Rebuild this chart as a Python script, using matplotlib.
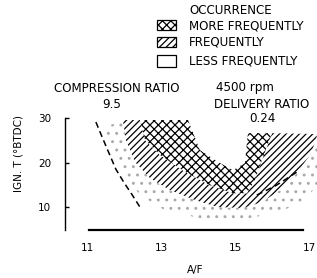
import matplotlib.pyplot as plt
from matplotlib.patches import Rectangle

# outer edge of the "frequently" band (A/F, ign. timing)
outer_af = [11.97, 12.05, 12.30, 12.70, 13.24, 13.92, 14.54, 15.22, 15.73, 16.22, 16.62, 17.03, 17.19, 17.22]
outer_ig = [29.55, 25.06, 20.11, 16.52, 13.82, 11.57, 10.0, 9.78, 11.12, 13.82, 17.19, 21.69, 25.06, 26.4]

# border between "frequently" and "more frequently"
mid_af = [12.43, 12.57, 12.97, 13.65, 14.32, 14.95, 15.32, 15.54, 15.73, 16.0]
mid_ig = [29.55, 25.06, 21.7, 17.9, 14.9, 13.1, 13.1, 16.1, 20.6, 26.6]

# inner edge of the "more frequently" band
inner_af = [13.73, 14.05, 14.59, 14.95, 15.27, 15.32, 15.35]
inner_ig = [29.55, 22.8, 19.9, 18.3, 19.9, 24.4, 26.6]

# outer edge of the "less frequently" zone
low_af = [11.43, 11.68, 12.03, 12.43, 13.1, 14.05, 15.14, 16.22, 16.89, 17.22]
low_ig = [27.75, 22.8, 17.2, 12.7, 9.3, 7.5, 7.1, 8.9, 11.6, 14.9]

# dashed limit lines
dash1_af = [11.24, 11.42, 11.6, 11.78, 12.0, 12.2, 12.43]
dash1_ig = [29.1, 25.5, 22.0, 18.5, 15.5, 13.0, 10.0]
dash2_af = [15.59, 16.1, 16.68]
dash2_ig = [12.7, 14.8, 17.9]

xticks = [11, 13, 15, 17]
yticks = [10, 20, 30]

W, H = 317, 278
plt.rcParams['hatch.linewidth'] = 0.9
fig = plt.figure(figsize=(W / 100, H / 100), dpi=100)
ax = fig.add_axes([65 / W, 1 - 230.2 / H, 252 / W, 114.4 / H])
ax.set_xlim(10.405, 17.216)
ax.set_ylim(4.8, 30.5)

# less frequently (stipple)
ax.fill(low_af + outer_af[::-1], low_ig + outer_ig[::-1],
        facecolor='none', edgecolor='#a8a8a8', hatch='..', linewidth=0)
# frequently (diagonal hatch)
ax.fill(outer_af + mid_af[::-1], outer_ig + mid_ig[::-1],
        facecolor='white', edgecolor='black', hatch='/////', linewidth=0)
# more frequently (cross hatch)
ax.fill(mid_af + inner_af[::-1], mid_ig + inner_ig[::-1],
        facecolor='white', edgecolor='black', hatch='xxxx', linewidth=0)

ax.plot(dash1_af, dash1_ig, color='black', lw=1.1, dashes=(4, 2.5))
ax.plot(dash2_af, dash2_ig, color='black', lw=1.1, dashes=(4, 2.5))

for s in ['top', 'right']:
    ax.spines[s].set_visible(False)
ax.spines['left'].set_bounds(4.8, 30)
ax.spines['left'].set_linewidth(1.0)
ax.spines['bottom'].set_bounds(11.05, 16.85)
ax.spines['bottom'].set_linewidth(1.6)

ax.set_xticks(xticks)
ax.set_xticklabels([str(t) for t in xticks], fontsize=7.5)
ax.set_yticks(yticks)
ax.set_yticklabels([str(t) for t in yticks], fontsize=7.5)
ax.tick_params(axis='x', length=0, pad=9)
ax.tick_params(axis='y', direction='in', length=3, width=1, pad=10)

ax.set_ylabel('IGN. T (°BTDC)', fontsize=7.5)
ax.yaxis.set_label_coords(-0.165, 0.67)
ax.set_xlabel('A/F', fontsize=7.5)
ax.xaxis.set_label_coords(0.516, -0.30)

def ftext(px, py, s, ha='center', size=8.6):
    fig.text(px / W, 1 - py / H, s, ha=ha, va='center', fontsize=size)

ftext(117, 88, 'COMPRESSION RATIO')
ftext(112, 104, '9.5')
ftext(245, 88, '4500 rpm')
ftext(262, 105, 'DELIVERY RATIO')
ftext(262, 119, '0.24')

ftext(189, 10, 'OCCURRENCE', ha='left')
ftext(189, 26, 'MORE FREQUENTLY', ha='left')
ftext(189, 42, 'FREQUENTLY', ha='left')
ftext(189, 61, 'LESS FREQUENTLY', ha='left')

legend_boxes = [(20, 30, 'xxxx'), (37, 47, '/////'), (55, 67, None)]
for top, bot, hatch in legend_boxes:
    r = Rectangle((157 / W, 1 - bot / H), 19 / W, (bot - top) / H,
                  transform=fig.transFigure, facecolor='white',
                  edgecolor='black', hatch=hatch, linewidth=0.9)
    fig.patches.append(r)

plt.savefig('out.png', dpi=100)
